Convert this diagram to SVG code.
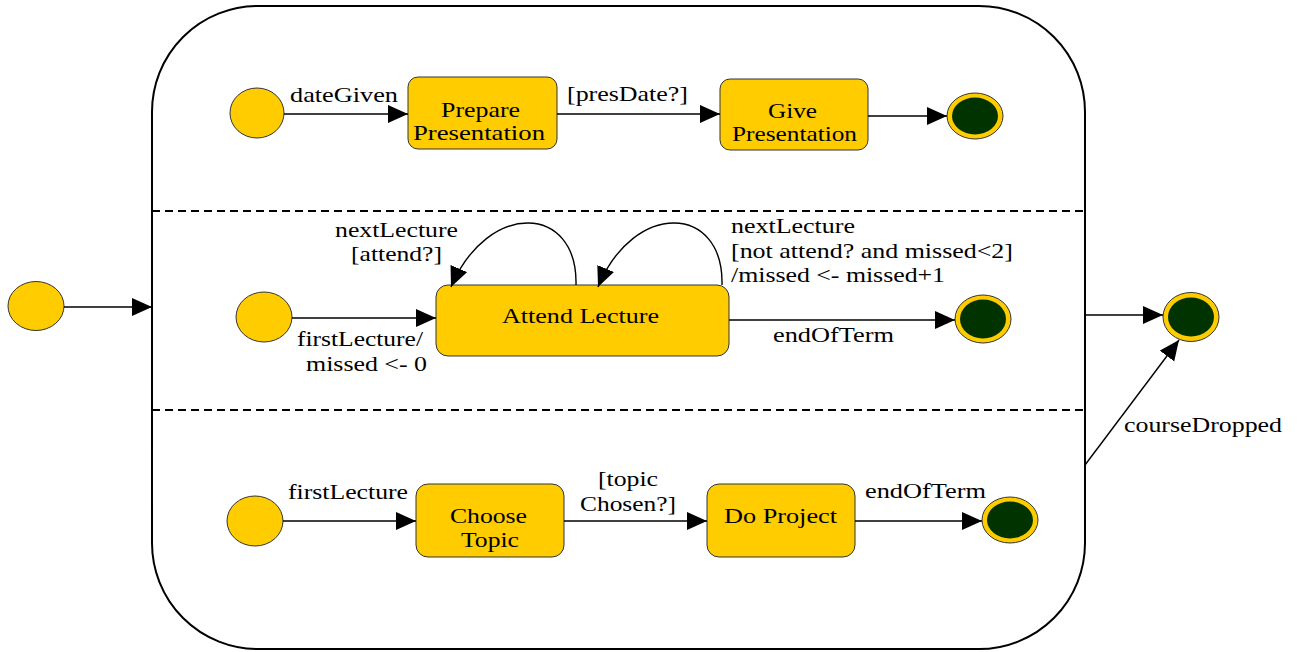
<svg xmlns="http://www.w3.org/2000/svg" width="1301" height="652" viewBox="0 0 1301 652">
<style>
text{font-family:"Liberation Serif","Times New Roman",serif;font-size:22px;fill:#000}
.st{fill:#FFCC00;stroke:#333;stroke-width:1}
.ini{fill:#FFCC00;stroke:#333;stroke-width:1}
.fo{fill:#FFCC00;stroke:#333;stroke-width:1}
.fi{fill:#013300;stroke:none}
.e{fill:none;stroke:#000;stroke-width:1.4;marker-end:url(#ah)}
.dash{stroke:#000;stroke-width:2;stroke-dasharray:8,5;fill:none}
</style>
<defs>
<marker id="ah" markerUnits="userSpaceOnUse" markerWidth="21" markerHeight="19" refX="20" refY="9" orient="auto">
<path d="M0,0 L20,9 L0,18 z" fill="#000"/>
</marker>
</defs>
<rect width="1301" height="652" fill="#fff"/>

<g id="composite">
<rect x="152" y="6" width="933" height="643" rx="106" ry="106" fill="none" stroke="#000" stroke-width="2"/>
<line class="dash" x1="152" y1="211" x2="1085" y2="211"/>
<line class="dash" x1="152" y1="410" x2="1085" y2="410"/>
</g>

<g id="outer-initial"><ellipse class="ini" cx="36" cy="306" rx="28" ry="24.5"/></g>
<g id="outer-final"><ellipse class="fo" cx="1191" cy="317" rx="28" ry="24.5"/><ellipse class="fi" cx="1191" cy="317" rx="23" ry="19.5"/></g>

<g id="init1"><ellipse class="ini" cx="257" cy="113" rx="27" ry="25"/></g>
<g id="prepare"><rect class="st" x="408" y="77" width="149" height="72" rx="10"/>
<text x="441" y="117" textLength="79" lengthAdjust="spacingAndGlyphs">Prepare</text>
<text x="413" y="140" textLength="132" lengthAdjust="spacingAndGlyphs">Presentation</text></g>
<g id="give"><rect class="st" x="720" y="79" width="148" height="71" rx="10"/>
<text x="768" y="118" textLength="49" lengthAdjust="spacingAndGlyphs">Give</text>
<text x="732" y="141" textLength="125" lengthAdjust="spacingAndGlyphs">Presentation</text></g>
<g id="final1"><ellipse class="fo" cx="975" cy="116" rx="28" ry="23"/><ellipse class="fi" cx="975" cy="116" rx="23" ry="18.5"/></g>

<g id="init2"><ellipse class="ini" cx="264" cy="317" rx="28" ry="25"/></g>
<g id="attend"><rect class="st" x="436" y="285" width="293" height="71" rx="12"/>
<text x="502" y="323" textLength="157" lengthAdjust="spacingAndGlyphs">Attend Lecture</text></g>
<g id="final2"><ellipse class="fo" cx="983" cy="319" rx="28" ry="24"/><ellipse class="fi" cx="983" cy="319" rx="23" ry="19.5"/></g>

<g id="init3"><ellipse class="ini" cx="255" cy="521" rx="28" ry="25"/></g>
<g id="choose"><rect class="st" x="416" y="484" width="148" height="73" rx="12"/>
<text x="450" y="523" textLength="77" lengthAdjust="spacingAndGlyphs">Choose</text>
<text x="461" y="547" textLength="58" lengthAdjust="spacingAndGlyphs">Topic</text></g>
<g id="doproject"><rect class="st" x="707" y="484" width="148" height="73" rx="12"/>
<text x="724" y="523" textLength="113" lengthAdjust="spacingAndGlyphs">Do Project</text></g>
<g id="final3"><ellipse class="fo" cx="1010" cy="520" rx="28" ry="23"/><ellipse class="fi" cx="1010" cy="520" rx="23" ry="18.5"/></g>

<g id="connectors">
<line class="e" x1="64" y1="307" x2="152" y2="307"/>
<line class="e" x1="1085" y1="315" x2="1163" y2="315"/>
<line class="e" x1="1085" y1="465" x2="1179" y2="340"/>
<text x="1124" y="432" textLength="158" lengthAdjust="spacingAndGlyphs">courseDropped</text>

<line class="e" x1="284" y1="114" x2="408" y2="114"/>
<text x="290" y="102" textLength="108" lengthAdjust="spacingAndGlyphs">dateGiven</text>
<line class="e" x1="557" y1="114" x2="720" y2="114"/>
<text x="567" y="101" textLength="121" lengthAdjust="spacingAndGlyphs">[presDate?]</text>
<line class="e" x1="868" y1="116" x2="947" y2="116"/>

<line class="e" x1="292" y1="318" x2="436" y2="318"/>
<text x="297" y="346" textLength="126" lengthAdjust="spacingAndGlyphs">firstLecture/</text>
<text x="306" y="371" textLength="121" lengthAdjust="spacingAndGlyphs">missed &lt;- 0</text>
<path class="e" d="M576,285 C578,204 488,200 451,287"/>
<text x="335" y="237" textLength="123" lengthAdjust="spacingAndGlyphs">nextLecture</text>
<text x="351" y="261" textLength="91" lengthAdjust="spacingAndGlyphs">[attend?]</text>
<path class="e" d="M722,285 C724,204 634,200 598,287"/>
<text x="731" y="233" textLength="124" lengthAdjust="spacingAndGlyphs">nextLecture</text>
<text x="731" y="258" textLength="282" lengthAdjust="spacingAndGlyphs">[not attend? and missed&lt;2]</text>
<text x="731" y="282" textLength="214" lengthAdjust="spacingAndGlyphs">/missed &lt;- missed+1</text>
<line class="e" x1="729" y1="320" x2="955" y2="320"/>
<text x="773" y="342" textLength="121" lengthAdjust="spacingAndGlyphs">endOfTerm</text>

<line class="e" x1="283" y1="521" x2="416" y2="521"/>
<text x="288" y="499" textLength="120" lengthAdjust="spacingAndGlyphs">firstLecture</text>
<line class="e" x1="564" y1="521" x2="707" y2="521"/>
<text x="598" y="486" textLength="60" lengthAdjust="spacingAndGlyphs">[topic</text>
<text x="580" y="511" textLength="96" lengthAdjust="spacingAndGlyphs">Chosen?]</text>
<line class="e" x1="855" y1="521" x2="982" y2="521"/>
<text x="865" y="498" textLength="121" lengthAdjust="spacingAndGlyphs">endOfTerm</text>
</g>
</svg>
